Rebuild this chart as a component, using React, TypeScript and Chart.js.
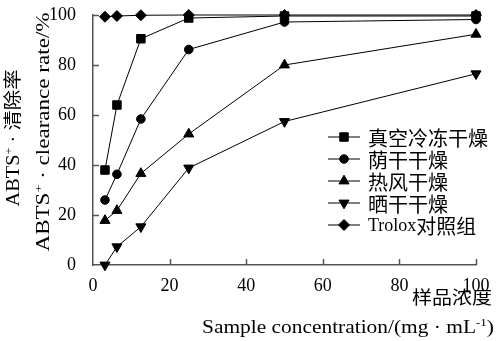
import React, { useEffect, useRef } from 'react';
import { Chart, registerables } from 'chart.js';
import { drawPoint } from 'chart.js/helpers';
Chart.register(...registerables);

// ---- data ----
const concentrations = [3.125, 6.25, 12.5, 25, 50, 100];
const seriesNames = ['真空冷冻干燥', '荫干干燥', '热风干燥', '晒干干燥', 'Trolox对照组'];
const vacuumFreeze = [38, 64, 90.5, 98.8, 99.6, 99.6];
const shadeDry = [26, 36.3, 58.4, 86.2, 97.2, 98.2];
const hotAir = [17.8, 21.8, 36.6, 52.4, 80, 92.3];
const sunDry = [0, 7.3, 15.3, 38.8, 57.4, 76.5];
const trolox = [99.3, 99.6, 99.9, 100, 100, 100];
const xTickValues = [0, 20, 40, 60, 80, 100];
const yTickValues = [0, 20, 40, 60, 80, 100];

const SERIF = '"Liberation Serif", "Times New Roman", serif';
const CJK = '"Noto Sans CJK SC", sans-serif';

type Seg = { t: string; size: number; fam: string; rise?: number };

function segWidth(ctx: CanvasRenderingContext2D, segs: Seg[]) {
  let w = 0;
  for (const s of segs) {
    ctx.font = `${s.size}px ${s.fam}`;
    w += ctx.measureText(s.t).width;
  }
  return w;
}

function drawRich(
  ctx: CanvasRenderingContext2D,
  segs: Seg[],
  x: number,
  y: number,
  angle: number,
  align: 'left' | 'center' | 'right',
  target?: number,
  baseline: CanvasTextBaseline = 'alphabetic'
) {
  ctx.save();
  ctx.translate(x, y);
  ctx.rotate(angle);
  const w = segWidth(ctx, segs);
  const sx = target ? target / w : 1;
  ctx.scale(sx, 1);
  let cx = align === 'left' ? 0 : align === 'center' ? -w / 2 : -w;
  ctx.fillStyle = '#000';
  ctx.textBaseline = baseline;
  ctx.textAlign = 'left';
  for (const s of segs) {
    ctx.font = `${s.size}px ${s.fam}`;
    ctx.fillText(s.t, cx, -(s.rise || 0));
    cx += ctx.measureText(s.t).width;
  }
  ctx.restore();
}

function splitScripts(text: string, latinSize: number, cjkSize: number): Seg[] {
  const segs: Seg[] = [];
  for (const ch of text) {
    const isCjk = /[\u3000-\u9fff\uff00-\uffef]/.test(ch);
    const fam = isCjk ? CJK : SERIF;
    const size = isCjk ? cjkSize : latinSize;
    const last = segs[segs.length - 1];
    if (last && last.fam === fam) last.t += ch;
    else segs.push({ t: ch, fam, size });
  }
  return segs;
}

function drawMarker(ctx: CanvasRenderingContext2D, style: string, radius: number, rotation: number, x: number, y: number) {
  ctx.save();
  ctx.fillStyle = '#000';
  ctx.strokeStyle = '#000';
  ctx.lineWidth = 1;
  drawPoint(ctx, { pointStyle: style, radius, rotation, borderWidth: 1 } as any, x, y);
  ctx.restore();
}

const decorPlugin = {
  id: 'decor',
  afterDraw(chart: any) {
    const ctx: CanvasRenderingContext2D = chart.ctx;
    const { left, bottom } = chart.chartArea;
    const xs = chart.scales.x;
    const ys = chart.scales.y;
    // inward tick marks
    ctx.save();
    ctx.strokeStyle = '#555';
    ctx.lineWidth = 1.5;
    ctx.beginPath();
    for (const v of xTickValues) {
      if (v === 0) continue;
      const px = Math.round(xs.getPixelForValue(v)) + 0.5;
      ctx.moveTo(px, bottom);
      ctx.lineTo(px, bottom - 6);
    }
    for (const v of yTickValues) {
      if (v === 0) continue;
      const py = Math.round(ys.getPixelForValue(v)) + 0.5;
      ctx.moveTo(left, py);
      ctx.lineTo(left + 6, py);
    }
    ctx.stroke();
    ctx.restore();

    // y titles
    drawRich(
      ctx,
      [
        { t: 'ABTS', size: 18, fam: SERIF },
        { t: '+', size: 11, fam: SERIF, rise: 7 },
        { t: ' · ', size: 18, fam: SERIF },
        { t: '清除率', size: 18, fam: CJK },
      ],
      19, 138, -Math.PI / 2, 'center', 137
    );
    drawRich(
      ctx,
      [
        { t: 'ABTS', size: 18, fam: SERIF },
        { t: '+', size: 11, fam: SERIF, rise: 7 },
        { t: ' · clearance rate/%', size: 18, fam: SERIF },
      ],
      49, 132, -Math.PI / 2, 'center', 239
    );
    // x titles
    drawRich(ctx, [{ t: '样品浓度', size: 18, fam: CJK }], 492, 304, 0, 'right', 80);
    drawRich(
      ctx,
      [
        { t: 'Sample concentration/(mg · mL', size: 18, fam: SERIF },
        { t: '-1', size: 11, fam: SERIF, rise: 7 },
        { t: ')', size: 18, fam: SERIF },
      ],
      494, 333, 0, 'right', 292
    );

    // legend
    chart.data.datasets.forEach((ds: any, i: number) => {
      const y = 137 + 22 * i;
      ctx.save();
      ctx.strokeStyle = '#000';
      ctx.lineWidth = 1;
      ctx.beginPath();
      ctx.moveTo(328, y);
      ctx.lineTo(360, y);
      ctx.stroke();
      ctx.restore();
      drawMarker(ctx, ds.pointStyle, ds.pointRadius, ds.pointRotation || 0, 344, y);
      drawRich(ctx, splitScripts(ds.label, 18, 20), 368, y + 1, 0, 'left', undefined, 'middle');
    });
  },
};

function makeDataset(label: string, data: number[], pointStyle: string, pointRadius: number, pointRotation = 0) {
  return {
    label,
    data: concentrations.map((c, i) => ({ x: c, y: data[i] })),
    borderColor: '#000',
    backgroundColor: '#000',
    borderWidth: 1,
    pointStyle,
    pointRadius,
    pointRotation,
    pointBorderWidth: 1,
    pointBorderColor: '#000',
    pointBackgroundColor: '#000',
    tension: 0,
    clip: false as const,
  };
}

export default function App() {
  const ref = useRef<HTMLCanvasElement | null>(null);
  useEffect(() => {
    if (!ref.current) return;
    const chart = new Chart(ref.current, {
      type: 'line',
      data: {
        datasets: [
          makeDataset(seriesNames[0], vacuumFreeze, 'rect', 6),
          makeDataset(seriesNames[1], shadeDry, 'circle', 4.3),
          makeDataset(seriesNames[2], hotAir, 'triangle', 5.8),
          makeDataset(seriesNames[3], sunDry, 'triangle', 5.8, 180),
          makeDataset(seriesNames[4], trolox, 'rectRot', 5.5),
        ] as any,
      },
      options: {
        responsive: false,
        animation: false,
        devicePixelRatio: 1,
        layout: { padding: { left: 0, top: 15, right: 20, bottom: 0 } },
        plugins: { legend: { display: false }, tooltip: { enabled: false } },
        scales: {
          x: {
            type: 'linear',
            min: 0,
            max: 100,
            afterBuildTicks: (s: any) => {
              s.ticks = xTickValues.map((v) => ({ value: v }));
            },
            afterFit: (s: any) => {
              s.height = 76;
              s.paddingLeft = 0;
              s.paddingRight = 0;
            },
            ticks: { color: '#000', font: { family: SERIF, size: 18 }, padding: 2, maxRotation: 0 },
            grid: { display: false },
            border: { display: true, color: '#555', width: 1.5 },
          },
          y: {
            type: 'linear',
            min: 0,
            max: 100,
            afterBuildTicks: (s: any) => {
              s.ticks = yTickValues.map((v) => ({ value: v }));
            },
            afterFit: (s: any) => {
              s.width = 93;
              s.paddingTop = 0;
              s.paddingBottom = 0;
            },
            ticks: { color: '#000', font: { family: SERIF, size: 18 }, padding: 9 },
            grid: { display: false },
            border: { display: true, color: '#555', width: 1.5 },
          },
        },
      } as any,
      plugins: [decorPlugin],
    });
    return () => chart.destroy();
  }, []);
  return (
    <div style={{ position: 'fixed', left: 0, top: 0, width: 496, height: 341, background: '#fff' }}>
      <canvas ref={ref} width={496} height={341} />
    </div>
  );
}
